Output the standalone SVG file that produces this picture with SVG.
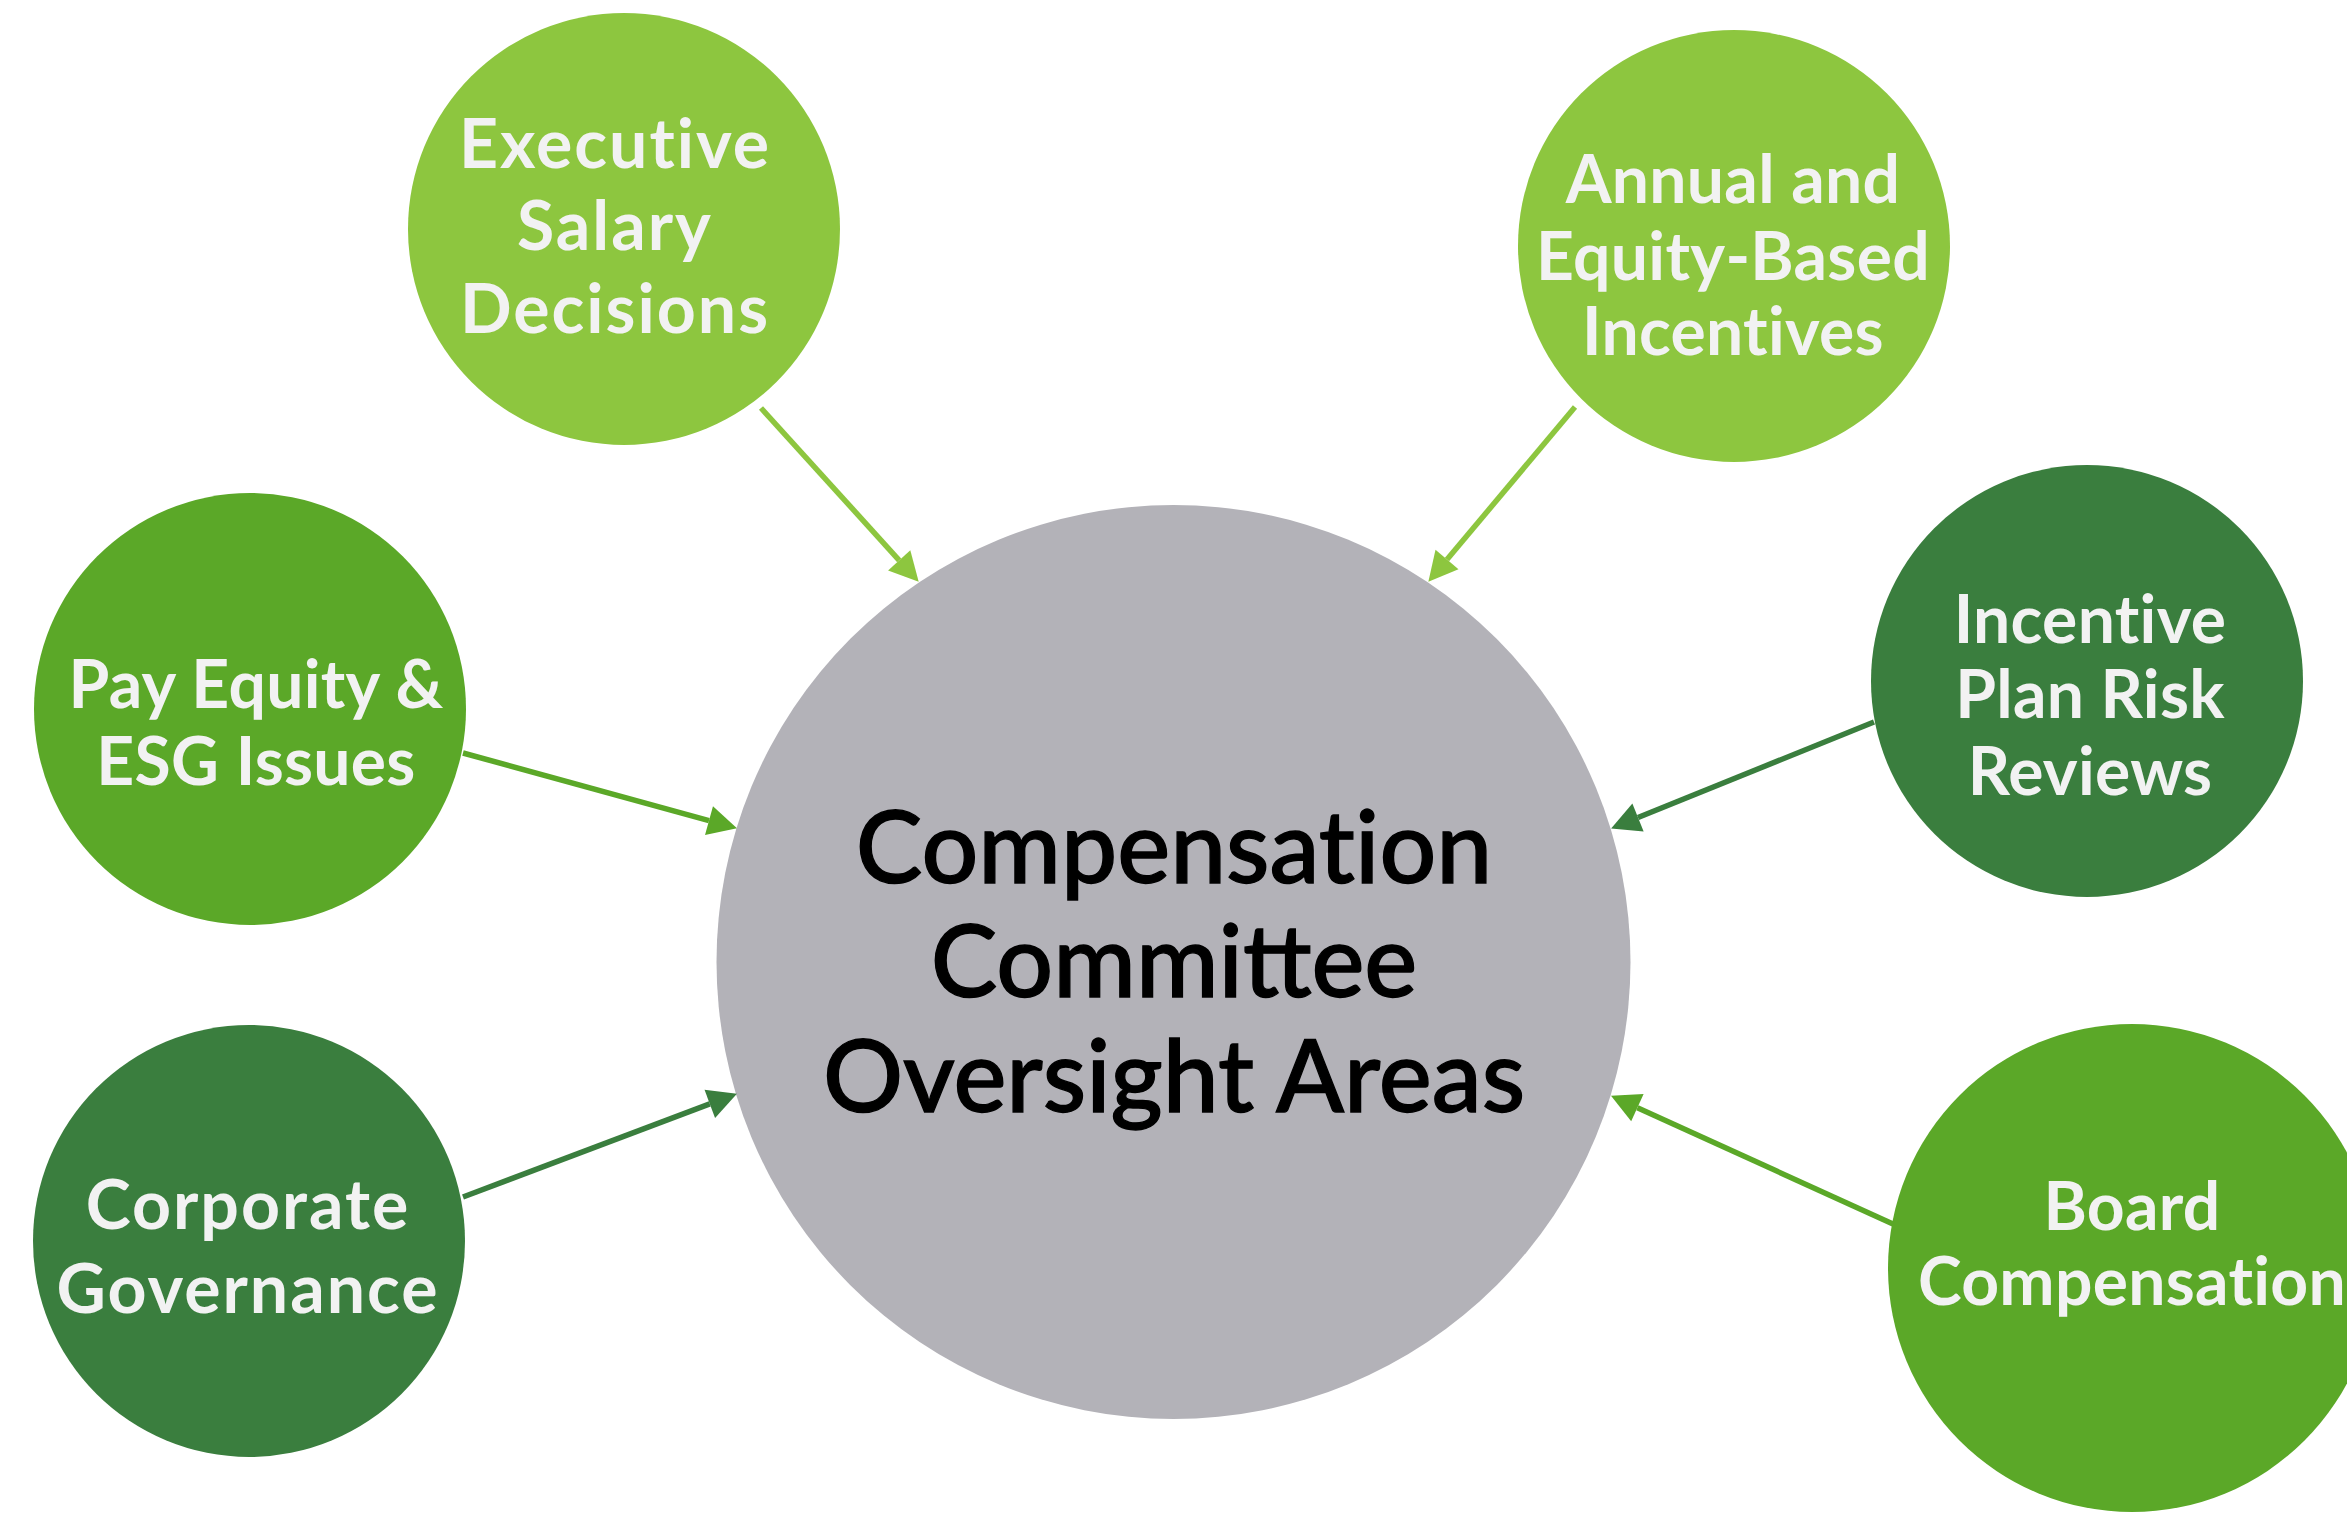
<svg xmlns="http://www.w3.org/2000/svg" width="2347" height="1513" viewBox="0 0 2347 1513">
  <style>
    .hub { fill: #B3B2B8; }
    .light { fill: #8DC63F; }
    .mid { fill: #5BA828; }
    .dark { fill: #3A7E3E; }
    .label { font-family: Lato, "Noto Sans", "Liberation Sans", sans-serif; font-weight: 700; font-size: 66px; letter-spacing: 0.3px; fill: #F2F2F2; text-anchor: middle; font-variant-ligatures: no-common-ligatures; }
    .wide { font-size: 68px; letter-spacing: 2px; }
    .title { font-family: Lato, "Noto Sans", "Liberation Sans", sans-serif; font-weight: 500; font-size: 100px; fill: #000000; stroke: #000000; stroke-width: 1.3px; text-anchor: middle; font-variant-ligatures: no-common-ligatures; }
    .title.lig { font-variant-ligatures: normal; }
    .conn { stroke-width: 5.5; fill: none; stroke-linecap: butt; }
    .c-light { stroke: #8DC63F; }
    .c-mid { stroke: #5BA828; }
    .c-dark { stroke: #3A7E3E; }
  </style>
  <defs>
    <marker id="head-light" markerUnits="userSpaceOnUse" markerWidth="30" markerHeight="32" refX="0" refY="15" orient="auto" overflow="visible">
      <path d="M0,0 L29,15 L0,30 Z" fill="#8DC63F"/>
    </marker>
    <marker id="head-mid" markerUnits="userSpaceOnUse" markerWidth="30" markerHeight="32" refX="0" refY="15" orient="auto" overflow="visible">
      <path d="M0,0 L29,15 L0,30 Z" fill="#5BA828"/>
    </marker>
    <marker id="head-dark" markerUnits="userSpaceOnUse" markerWidth="30" markerHeight="32" refX="0" refY="15" orient="auto" overflow="visible">
      <path d="M0,0 L29,15 L0,30 Z" fill="#3A7E3E"/>
    </marker>
  </defs>

  <rect width="2347" height="1513" fill="#FFFFFF"/>

  <!-- central hub -->
  <g id="hub">
    <circle class="hub" cx="1173.5" cy="962" r="457"/>
    <text class="title" x="1174" y="883">Compensation</text>
    <text class="title lig" x="1174" y="997">Committee</text>
    <text class="title" x="1174" y="1112">Oversight Areas</text>
  </g>

  <!-- surrounding areas -->
  <g id="executive-salary">
    <circle class="light" cx="624" cy="229" r="216"/>
    <text class="label wide" x="615" y="168">Executive</text>
    <text class="label wide" x="615" y="250">Salary</text>
    <text class="label wide" x="615" y="333">Decisions</text>
  </g>

  <g id="annual-equity">
    <circle class="light" cx="1734" cy="246" r="216"/>
    <text class="label" x="1733" y="203">Annual and</text>
    <text class="label" x="1733" y="280">Equity-Based</text>
    <text class="label" x="1733" y="355">Incentives</text>
  </g>

  <g id="pay-equity">
    <circle class="mid" cx="250" cy="709" r="216"/>
    <text class="label" x="256" y="708">Pay Equity &amp;</text>
    <text class="label" x="256" y="785">ESG Issues</text>
  </g>

  <g id="incentive-risk">
    <circle class="dark" cx="2087" cy="681" r="216"/>
    <text class="label" x="2090" y="643">Incentive</text>
    <text class="label" x="2090" y="718">Plan Risk</text>
    <text class="label" x="2090" y="795">Reviews</text>
  </g>

  <g id="corporate-governance">
    <circle class="dark" cx="249" cy="1241" r="216"/>
    <text class="label wide" x="248" y="1229">Corporate</text>
    <text class="label wide" x="248" y="1313">Governance</text>
  </g>

  <g id="board-compensation">
    <circle class="mid" cx="2132" cy="1268" r="244"/>
    <text class="label" x="2132" y="1230">Board</text>
    <text class="label" x="2132" y="1305">Compensation</text>
  </g>

  <!-- connectors: each line stops at the arrowhead base -->
  <g id="connectors">
    <line class="conn c-light" x1="761" y1="408" x2="899.2" y2="560.3" marker-end="url(#head-light)"/>
    <line class="conn c-light" x1="1575" y1="407" x2="1447" y2="559.5" marker-end="url(#head-light)"/>
    <line class="conn c-mid" x1="463" y1="753" x2="709" y2="820.6" marker-end="url(#head-mid)"/>
    <line class="conn c-dark" x1="463" y1="1197" x2="709.8" y2="1103.9" marker-end="url(#head-dark)"/>
    <line class="conn c-dark" x1="1874" y1="722" x2="1638" y2="817.5" marker-end="url(#head-dark)"/>
    <line class="conn c-mid" x1="1893" y1="1224" x2="1637.4" y2="1107.7" marker-end="url(#head-mid)"/>
  </g>
</svg>
